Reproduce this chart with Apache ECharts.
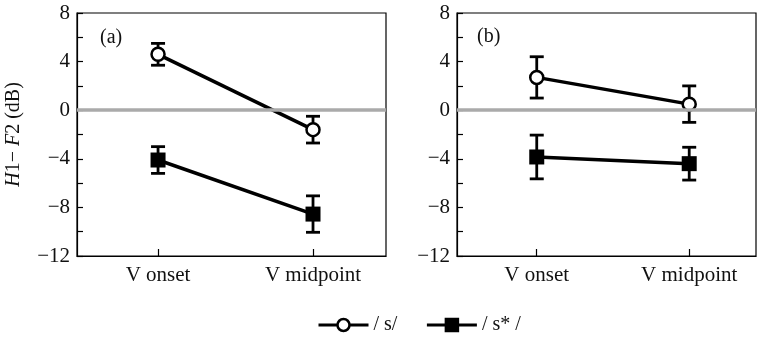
<!DOCTYPE html>
<html>
<head>
<meta charset="utf-8">
<script src="https://cdn.jsdelivr.net/npm/echarts@6/dist/echarts.min.js"></script>
<style>
  html, body { margin: 0; padding: 0; background: #fff; }
  #chart { width: 757px; height: 341px; }
</style>
</head>
<body>
<div id="chart"></div>
<script>
// categories on the x axis (placed at index 0 and 1)
const categories = ['V onset', 'V midpoint'];
const seriesNames = ['/ s/', '/ s* /'];
const panelLabels = ['(a)', '(b)'];

// panel (a) means and error half-widths
const sMeanA = [4.6, -1.6];
const sErrA = [0.9, 1.1];
const sStarMeanA = [-4.1, -8.55];
const sStarErrA = [1.1, 1.5];

// panel (b)
const sMeanB = [2.7, 0.5];
const sErrB = [1.7, 1.5];
const sStarMeanB = [-3.85, -4.4];
const sStarErrB = [1.8, 1.35];

const yMin = -12, yMax = 8, yTickStep = 2, yLabelStep = 4;

const FONT = '"Liberation Serif", "DejaVu Serif", serif';

function pts(means) {
  return means.map((m, i) => [i, m]);
}
function bars(means, errs) {
  return means.map((m, i) => [i, m - errs[i], m + errs[i]]);
}

function renderErr(params, api) {
  const x = api.value(0);
  const lo = api.coord([x, api.value(1)]);
  const hi = api.coord([x, api.value(2)]);
  const w = 7;
  const st = { stroke: '#000', lineWidth: 2.8 };
  return {
    type: 'group',
    children: [
      { type: 'line', shape: { x1: lo[0], y1: lo[1], x2: hi[0], y2: hi[1] }, style: st },
      { type: 'line', shape: { x1: lo[0] - w, y1: lo[1], x2: lo[0] + w, y2: lo[1] }, style: st },
      { type: 'line', shape: { x1: hi[0] - w, y1: hi[1], x2: hi[0] + w, y2: hi[1] }, style: st }
    ]
  };
}

function xAxis(idx, min, max) {
  return {
    type: 'value', gridIndex: idx, min: min, max: max,
    splitLine: { show: false },
    axisLine: { onZero: false, lineStyle: { color: '#000', width: 1.2 } },
    axisTick: { inside: true, length: 7, customValues: [0, 1], lineStyle: { color: '#000', width: 1.2 } },
    axisLabel: {
      customValues: [0, 1],
      formatter: v => categories[Math.round(v)],
      color: '#111', fontFamily: FONT, fontSize: 21, margin: 9
    }
  };
}

function yAxis(idx, withName) {
  const ax = {
    type: 'value', gridIndex: idx, min: yMin, max: yMax, interval: yTickStep,
    splitLine: { show: false },
    axisLine: { show: true, onZero: false, lineStyle: { color: '#000', width: 1.2 } },
    axisTick: { inside: true, length: 6, lineStyle: { color: '#000', width: 1.2 } },
    axisLabel: {
      formatter: v => (v % yLabelStep === 0 ? String(v).replace('-', '\u2212') : ''),
      color: '#111', fontFamily: FONT, fontSize: 21, margin: 7
    }
  };
  if (withName) {
    ax.name = '{i|H}1\u2212 {i|F}2 (dB)';
    ax.nameLocation = 'middle';
    ax.nameGap = 53;
    ax.nameTextStyle = {
      color: '#111', fontFamily: FONT, fontSize: 20,
      rich: { i: { fontStyle: 'italic', fontFamily: FONT, fontSize: 20, color: '#111' } }
    };
  }
  return ax;
}

function lineSeries(name, idx, data, isOpen) {
  return {
    name: name, type: 'line', xAxisIndex: idx, yAxisIndex: idx, data: data,
    z: 4,
    symbol: isOpen ? 'circle' : 'rect',
    symbolSize: isOpen ? 13 : 15,
    itemStyle: isOpen
      ? { color: '#fff', borderColor: '#000', borderWidth: 2.5 }
      : { color: '#000', borderColor: '#000', borderWidth: 0 },
    lineStyle: { color: '#000', width: 3.5 },
    emphasis: { disabled: true },
    animation: false
  };
}

function errSeries(idx, data) {
  return {
    type: 'custom', xAxisIndex: idx, yAxisIndex: idx, data: data,
    renderItem: renderErr, z: 3, silent: true, animation: false,
    encode: { x: 0, y: [1, 2] }
  };
}

function zeroSeries(idx) {
  return {
    type: 'line', xAxisIndex: idx, yAxisIndex: idx, data: [], z: 1, silent: true,
    markLine: {
      silent: true, symbol: 'none', label: { show: false }, animation: false,
      lineStyle: { color: '#aaaaaa', width: 3.5, type: 'solid' },
      data: [{ yAxis: 0 }]
    }
  };
}

const chart = echarts.init(document.getElementById('chart'));
chart.setOption({
  animation: false,
  backgroundColor: '#fff',
  grid: [
    { left: 77, top: 13, width: 309, height: 243, show: true, borderColor: '#000', borderWidth: 1.2 },
    { left: 457, top: 13, width: 299, height: 243, show: true, borderColor: '#000', borderWidth: 1.2 }
  ],
  xAxis: [xAxis(0, -0.523, 1.471), xAxis(1, -0.523, 1.438)],
  yAxis: [yAxis(0, true), yAxis(1, false)],
  legend: {
    data: seriesNames,
    left: 312, top: 310,
    itemWidth: 50, itemHeight: 15, itemGap: 28,
    textStyle: { color: '#111', fontFamily: FONT, fontSize: 20 },
    lineStyle: { width: 3 },
    itemStyle: { borderWidth: 2.5 },
    selectedMode: false
  },
  graphic: [
    { type: 'text', left: 100, top: 28, style: { text: panelLabels[0], font: '20px ' + FONT, fill: '#111' } },
    { type: 'text', left: 477, top: 27, style: { text: panelLabels[1], font: '20px ' + FONT, fill: '#111' } }
  ],
  series: [
    zeroSeries(0), zeroSeries(1),
    errSeries(0, bars(sMeanA, sErrA)),
    errSeries(0, bars(sStarMeanA, sStarErrA)),
    errSeries(1, bars(sMeanB, sErrB)),
    errSeries(1, bars(sStarMeanB, sStarErrB)),
    lineSeries(seriesNames[0], 0, pts(sMeanA), true),
    lineSeries(seriesNames[1], 0, pts(sStarMeanA), false),
    lineSeries(seriesNames[0], 1, pts(sMeanB), true),
    lineSeries(seriesNames[1], 1, pts(sStarMeanB), false)
  ]
});
</script>
</body>
</html>
